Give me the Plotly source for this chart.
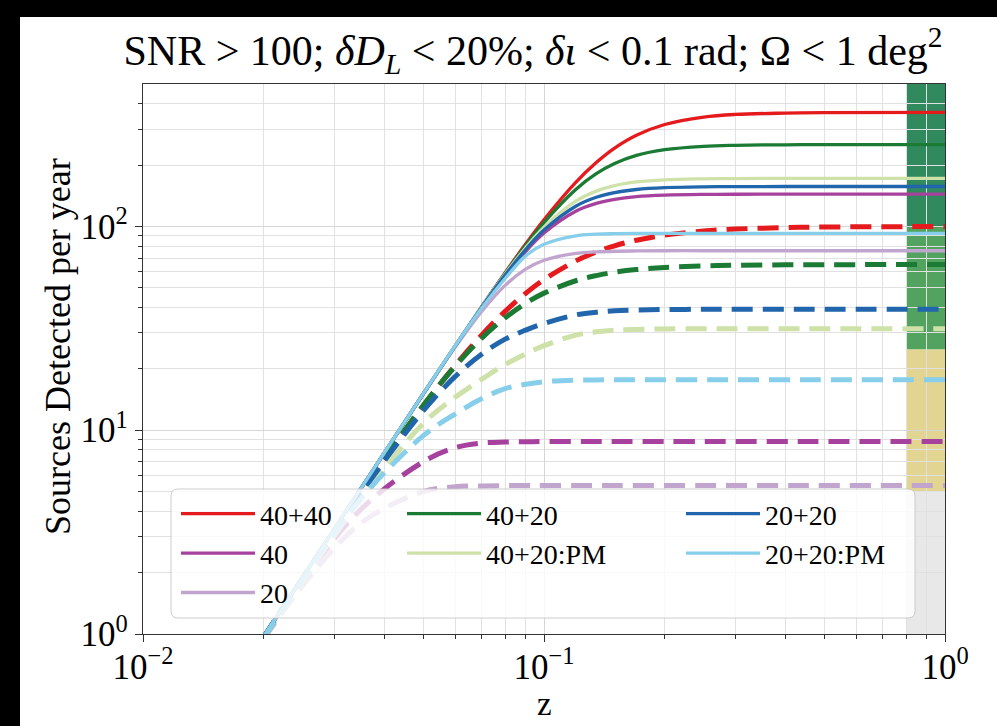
import plotly.graph_objects as go

# ---------------- data ----------------
z = [0.018, 0.025, 0.035, 0.05, 0.06, 0.07, 0.08, 0.09, 0.1, 0.12, 0.135, 0.15, 0.17,
     0.2, 0.25, 0.3, 0.4, 0.5, 1.0]

labels = ["40+40", "40", "20", "40+20", "40+20:PM", "20+20", "20+20:PM"]
colors = ["#e41a1c", "#a6419e", "#c2a5cf", "#1b7b34", "#cde1a9", "#2166ac", "#87ceeb"]

solid_4040 = [0.707, 1.896, 5.19, 15.08, 25.87, 40.56, 59.3, 82.0, 107.8, 164.5, 205.8, 242.3, 280.1,
              316.4, 344.0, 354.4, 360.0, 362.1, 363.0]
solid_40 = [0.707, 1.896, 5.20, 15.09, 25.78, 39.97, 57.0, 75.4, 92.8, 118.7, 129.7, 135.8, 140.0,
            142.4, 143.6, 143.9, 144.0, 144.0, 144.0]
solid_20 = [0.707, 1.896, 5.20, 15.06, 25.5, 38.4, 51.4, 61.7, 68.2, 73.7, 75.0, 75.55, 75.8,
            76.0, 76.0, 76.0, 76.0, 76.0, 76.0]
solid_4020 = [0.707, 1.896, 5.20, 15.10, 25.88, 40.5, 58.95, 80.7, 104.5, 151.8, 181.4, 203.5, 223.0,
              238.1, 247.3, 250.1, 251.6, 251.9, 252.0]
solid_4020pm = [0.707, 1.896, 5.20, 15.11, 25.9, 40.43, 58.4, 78.6, 99.1, 133.0, 149.1, 158.6, 165.3,
                169.4, 171.3, 171.8, 172.0, 172.0, 172.0]
solid_2020 = [0.707, 1.896, 5.20, 15.1, 25.84, 40.2, 57.7, 77.0, 96.0, 125.7, 139.0, 146.6, 151.8,
              155.0, 156.5, 156.8, 157.0, 157.0, 157.0]
solid_2020pm = [0.707, 1.896, 5.20, 15.12, 25.9, 39.8, 55.5, 71.7, 81.8, 90.0, 91.6, 92.15, 92.4,
                92.5, 92.5, 92.5, 92.5, 92.5, 92.5]

dash_4040 = [0.702, 1.861, 4.943, 13.17, 20.76, 29.38, 38.31, 46.93, 54.81, 67.7, 74.9, 80.37, 85.6,
             90.65, 95.0, 97.04, 98.7, 99.34, 99.92]
dash_40 = [0.701, 1.819, 4.1, 7.0, 8.2, 8.65, 8.75, 8.78, 8.8, 8.8, 8.8, 8.8, 8.8,
           8.8, 8.8, 8.8, 8.8, 8.8, 8.8]
dash_20 = [0.694, 1.727, 3.507, 5.0, 5.28, 5.33, 5.35, 5.35, 5.35, 5.35, 5.35, 5.35, 5.35,
           5.35, 5.35, 5.35, 5.35, 5.35, 5.35]
dash_4020 = [0.704, 1.874, 5.0, 13.27, 20.57, 28.33, 35.63, 41.95, 47.07, 54.14, 57.4, 59.6, 61.4,
             62.96, 64.07, 64.5, 64.83, 64.92, 65.0]
dash_4020pm = [0.697, 1.821, 4.624, 10.8, 14.5, 17.8, 21.0, 23.7, 26.0, 29.3, 30.4, 31.0, 31.25,
               31.4, 31.5, 31.5, 31.5, 31.5, 31.5]
dash_2020 = [0.704, 1.868, 4.928, 12.47, 18.32, 23.68, 27.98, 31.0, 33.42, 36.8, 37.9, 38.6, 38.9,
             39.1, 39.2, 39.2, 39.2, 39.2, 39.2]
dash_2020pm = [0.701, 1.839, 4.62, 9.4, 12.0, 14.3, 16.0, 16.8, 17.3, 17.6, 17.65, 17.7, 17.7,
               17.7, 17.7, 17.7, 17.7, 17.7, 17.7]

solid_series = [solid_4040, solid_40, solid_20, solid_4020, solid_4020pm, solid_2020, solid_2020pm]
dashed_series = [dash_4040, dash_40, dash_20, dash_4020, dash_4020pm, dash_2020, dash_2020pm]
legend_of = ["legend", "legend", "legend", "legend2", "legend2", "legend3", "legend3"]

# quality bands at the right edge
band_x = [0.8, 1.0]
band_edges = [1, 5, 25, 100, 500]
band_colors = ["#e8e8e8", "#e2d592", "#51a35f", "#318a5e"]

x_tickvals = [0.01, 0.1, 1]
x_ticktext = ["10<sup>\u22122</sup>", "10<sup>\u22121</sup>", "10<sup>0</sup>"]
y_tickvals = [1, 10, 100]
y_ticktext = ["10<sup>0</sup>", "10<sup>1</sup>", "10<sup>2</sup>"]

title_text = ("SNR &gt; 100; <i>\u03b4D</i><sub><i>L</i></sub> &lt; 20%; "
              "<i>\u03b4\u03b9</i> &lt; 0.1 rad; \u03a9 &lt; 1 deg<sup>2</sup>")
x_label = "z"
y_label = "Sources Detected per year"

# ---------------- figure ----------------
FONT = "Liberation Serif, Times New Roman, serif"
W, H = 997, 726
L, R, T, B = 143, 52, 84, 92
PW, PH = W - L - R, H - T - B


def px2paper_x(px):
    return (px - L) / PW


def px2paper_y(py):
    return (H - B - py) / PH


fig = go.Figure()

for lab, col, ys, yd, lg in zip(labels, colors, solid_series, dashed_series, legend_of):
    fig.add_trace(go.Scatter(
        x=z, y=ys, mode="lines", name=lab, legend=lg,
        line=dict(color=col, width=3.3, shape="spline", smoothing=1.0),
        showlegend=True, hoverinfo="skip"))
    fig.add_trace(go.Scatter(
        x=z, y=yd, mode="lines", name=lab + " (dashed)", legend=lg,
        line=dict(color=col, width=5, dash="21px,10px", shape="spline", smoothing=1.0),
        showlegend=False, hoverinfo="skip"))

shapes = []
for i, c in enumerate(band_colors):
    shapes.append(dict(type="rect", xref="x", yref="y", x0=band_x[0], x1=band_x[1],
                       y0=band_edges[i], y1=band_edges[i + 1], fillcolor=c,
                       line=dict(width=0), layer="below"))

# legend frame (rounded, semi-transparent)
x0, x1 = px2paper_x(171), px2paper_x(915)
y0, y1 = px2paper_y(618), px2paper_y(489)
rx, ry = 7 / PW, 7 / PH
path = (f"M{x0+rx},{y0} L{x1-rx},{y0} Q{x1},{y0} {x1},{y0+ry} L{x1},{y1-ry} "
        f"Q{x1},{y1} {x1-rx},{y1} L{x0+rx},{y1} Q{x0},{y1} {x0},{y1-ry} "
        f"L{x0},{y0+ry} Q{x0},{y0} {x0+rx},{y0} Z")
shapes.append(dict(type="path", xref="paper", yref="paper", path=path,
                   fillcolor="rgba(255,255,255,0.8)",
                   line=dict(color="rgba(200,200,200,0.9)", width=1), layer="above"))

# black border strips of the original picture
shapes.append(dict(type="rect", xref="paper", yref="paper",
                   x0=px2paper_x(0), x1=px2paper_x(20), y0=px2paper_y(H), y1=px2paper_y(0),
                   fillcolor="black", line=dict(width=0), layer="above"))
shapes.append(dict(type="rect", xref="paper", yref="paper",
                   x0=px2paper_x(0), x1=px2paper_x(W), y0=px2paper_y(17), y1=px2paper_y(0),
                   fillcolor="black", line=dict(width=0), layer="above"))

x_minor = [m * 10 ** e for e in (-2, -1) for m in range(2, 10)]
y_minor = [m * 10 ** e for e in (0, 1) for m in range(2, 10)] + [200, 300, 400]

axis_common = dict(
    type="log", showline=True, linecolor="#333333", linewidth=1.3, mirror=True,
    ticks="outside", ticklen=7, tickwidth=1.2, tickcolor="#333333",
    showgrid=True, gridcolor="#d6d6d6", gridwidth=1, zeroline=False,
    tickfont=dict(family=FONT, size=35, color="black"),
)

annotations = [
    dict(text=x_label, xref="paper", yref="paper", x=0.5, y=px2paper_y(704),
         xanchor="center", yanchor="middle", showarrow=False,
         font=dict(family=FONT, size=33, color="black")),
    dict(text=y_label, xref="paper", yref="paper", x=px2paper_x(58), y=px2paper_y(347),
         xanchor="center", yanchor="middle", showarrow=False, textangle=-90,
         font=dict(family=FONT, size=36, color="black")),
]

fig.update_layout(
    width=W, height=H,
    margin=dict(l=L, r=R, t=T, b=B, autoexpand=False),
    paper_bgcolor="white", plot_bgcolor="white",
    title=dict(text=title_text, font=dict(family=FONT, size=42, color="black"),
               x=px2paper_x(533), xref="paper", xanchor="center",
               y=1 - 50 / H, yref="container", yanchor="middle"),
    xaxis=dict(**axis_common, range=[-2, 0], tickvals=x_tickvals, ticktext=x_ticktext,
               ticklabelstandoff=-5,
               minor=dict(tickvals=x_minor, ticks="outside", ticklen=4, tickcolor="#333333",
                          showgrid=True, gridcolor="#e1e1e1", gridwidth=1)),
    yaxis=dict(**axis_common, range=[0, 2.699], tickvals=y_tickvals, ticktext=y_ticktext,
               minor=dict(tickvals=y_minor, ticks="outside", ticklen=4, tickcolor="#333333",
                          showgrid=True, gridcolor="#e1e1e1", gridwidth=1)),
    shapes=shapes,
    annotations=annotations,
    showlegend=True,
)

leg_common = dict(xanchor="left", yanchor="top", bgcolor="rgba(0,0,0,0)", borderwidth=0,
                  font=dict(family=FONT, size=28, color="black"), itemwidth=74,
                  tracegroupgap=0, orientation="v")
fig.update_layout(
    legend=dict(**leg_common, x=px2paper_x(176), y=px2paper_y(489)),
    legend2=dict(**leg_common, x=px2paper_x(402), y=px2paper_y(489)),
    legend3=dict(**leg_common, x=px2paper_x(681), y=px2paper_y(489)),
)

fig.write_html("out.html")
